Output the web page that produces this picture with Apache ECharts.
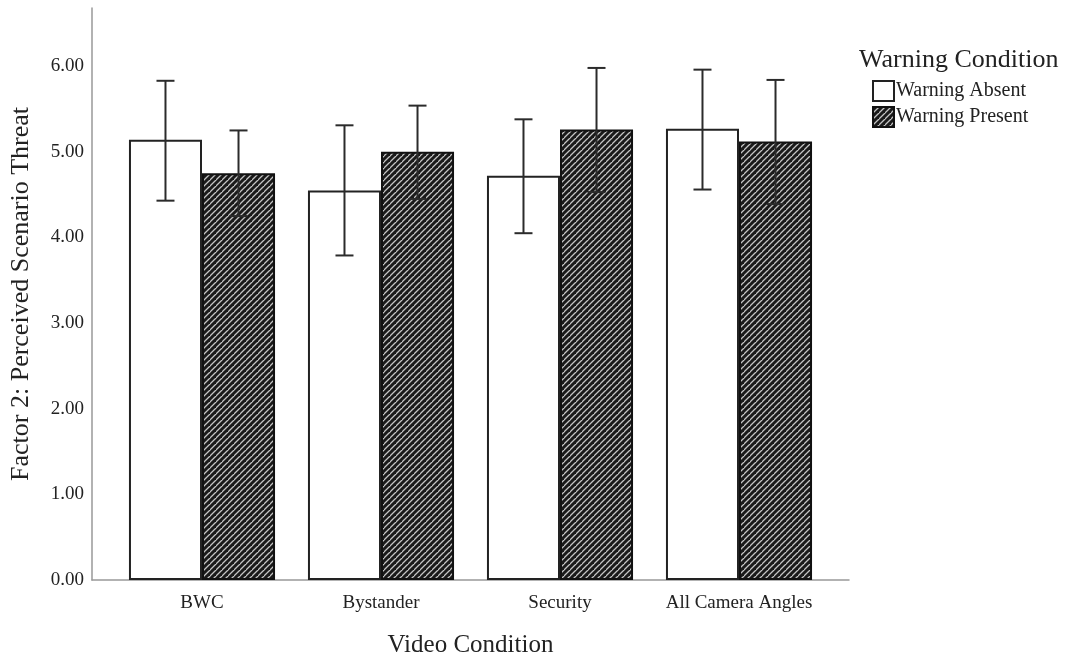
<!DOCTYPE html>
<html>
<head>
<meta charset="utf-8">
<script src="https://cdn.jsdelivr.net/npm/echarts@6/dist/echarts.min.js"></script>
<style>
html,body{margin:0;padding:0;background:#fff;}
#chart{width:1070px;height:656px;}
</style>
</head>
<body>
<div id="chart"></div>
<script>
const categories = ['BWC', 'Bystander', 'Security', 'All Camera Angles'];
const seriesNames = ['Warning Absent', 'Warning Present'];
const absentMean = [5.14, 4.55, 4.72, 5.27];
const absentLow  = [4.43, 3.79, 4.05, 4.56];
const absentHigh = [5.83, 5.31, 5.38, 5.96];
const presentMean = [4.75, 5.00, 5.26, 5.12];
const presentLow  = [4.25, 4.45, 4.53, 4.39];
const presentHigh = [5.25, 5.54, 5.98, 5.84];

const FONT = 'Liberation Serif';
const TXT = '#222';

function makeHatch() {
  const s = 6;
  const c = document.createElement('canvas');
  c.width = s; c.height = s;
  const g = c.getContext('2d');
  g.fillStyle = '#1a1a1a';
  g.fillRect(0, 0, s, s);
  g.strokeStyle = '#c4c4c4';
  g.lineWidth = 1.3;
  g.beginPath();
  g.moveTo(-1, s + 1); g.lineTo(s + 1, -1);
  g.moveTo(-s - 1, s + 1); g.lineTo(1, -1);
  g.moveTo(-1 + s, 2 * s + 1); g.lineTo(2 * s + 1, s - 1);
  g.stroke();
  return c;
}
const hatch = { image: makeHatch(), repeat: 'repeat' };

const CAT_GAP = 0.184;

function errorSeries(name, low, high, sign) {
  return {
    name: name + ' err',
    type: 'custom',
    xAxisIndex: 1, yAxisIndex: 1,
    z: 10,
    silent: true,
    data: categories.map((c, i) => [i, low[i], high[i]]),
    renderItem: function (params, api) {
      const i = api.value(0);
      const band = api.size([1, 0])[0];
      const bw = band * (1 - CAT_GAP) / 2;
      const pLow = api.coord([i, api.value(1)]);
      const pHigh = api.coord([i, api.value(2)]);
      const x = pLow[0] + sign * bw / 2;
      const cap = 9;
      const st = { stroke: '#2b2b2b', lineWidth: 2, fill: null };
      return {
        type: 'group',
        children: [
          { type: 'line', shape: { x1: x, y1: pLow[1], x2: x, y2: pHigh[1] }, style: st },
          { type: 'line', shape: { x1: x - cap, y1: pLow[1], x2: x + cap, y2: pLow[1] }, style: st },
          { type: 'line', shape: { x1: x - cap, y1: pHigh[1], x2: x + cap, y2: pHigh[1] }, style: st }
        ]
      };
    }
  };
}

const chart = echarts.init(document.getElementById('chart'));
chart.setOption({
  backgroundColor: '#fff',
  animation: false,
  textStyle: { fontFamily: FONT, color: TXT },
  title: {
    text: 'Warning Condition',
    left: 854, top: 42,
    textStyle: { fontFamily: FONT, fontSize: 26, fontWeight: 'normal', color: TXT }
  },
  legend: {
    data: seriesNames,
    orient: 'vertical',
    left: 867, top: 75,
    itemWidth: 21, itemHeight: 20,
    itemGap: 4,
    icon: 'rect',
    textStyle: { fontFamily: FONT, fontSize: 20, color: TXT, padding: [0, 0, 0, -3] }
  },
  grid: [
    { left: 92, right: 221, top: 8, bottom: 76, outerBoundsMode: 'none' },
    { left: 112.5, right: 241.5, top: 8, bottom: 76, outerBoundsMode: 'none' }
  ],
  xAxis: [
    {
      type: 'value', gridIndex: 0, min: 0, max: 1,
      axisLine: { show: true, lineStyle: { color: '#999', width: 1.5 } },
      axisTick: { show: false }, axisLabel: { show: false }, splitLine: { show: false }
    },
    {
      type: 'category', gridIndex: 1, data: categories,
      axisLine: { show: false }, axisTick: { show: false },
      axisLabel: { interval: 0, margin: 14, fontFamily: FONT, fontSize: 19, color: TXT },
      name: 'Video Condition', nameLocation: 'middle', nameGap: 53,
      nameTextStyle: { fontFamily: FONT, fontSize: 25, color: TXT }
    }
  ],
  yAxis: [
    {
      type: 'value', gridIndex: 0, min: 0, max: 6.68, interval: 1,
      axisLine: { show: true, lineStyle: { color: '#999', width: 1.5 } },
      axisTick: { show: false }, splitLine: { show: false },
      axisLabel: {
        margin: 8, fontFamily: FONT, fontSize: 19, color: TXT,
        formatter: v => (Math.abs(v - Math.round(v)) < 1e-9 ? v.toFixed(2) : '')
      },
      name: 'Factor 2: Perceived Scenario Threat', nameLocation: 'middle', nameGap: 58,
      nameTextStyle: { fontFamily: FONT, fontSize: 26, color: TXT }
    },
    {
      type: 'value', gridIndex: 1, min: 0, max: 6.68, interval: 1, show: false
    }
  ],
  series: [
    {
      name: seriesNames[0], type: 'bar', xAxisIndex: 1, yAxisIndex: 1,
      data: absentMean, barGap: '0%', barCategoryGap: (CAT_GAP * 100) + '%',
      itemStyle: { color: '#fff', borderColor: '#222', borderWidth: 2 }
    },
    {
      name: seriesNames[1], type: 'bar', xAxisIndex: 1, yAxisIndex: 1,
      data: presentMean, barGap: '0%', barCategoryGap: (CAT_GAP * 100) + '%',
      itemStyle: { color: hatch, borderColor: '#111', borderWidth: 2 }
    },
    errorSeries(seriesNames[0], absentLow, absentHigh, -1),
    errorSeries(seriesNames[1], presentLow, presentHigh, 1)
  ]
});
</script>
</body>
</html>
